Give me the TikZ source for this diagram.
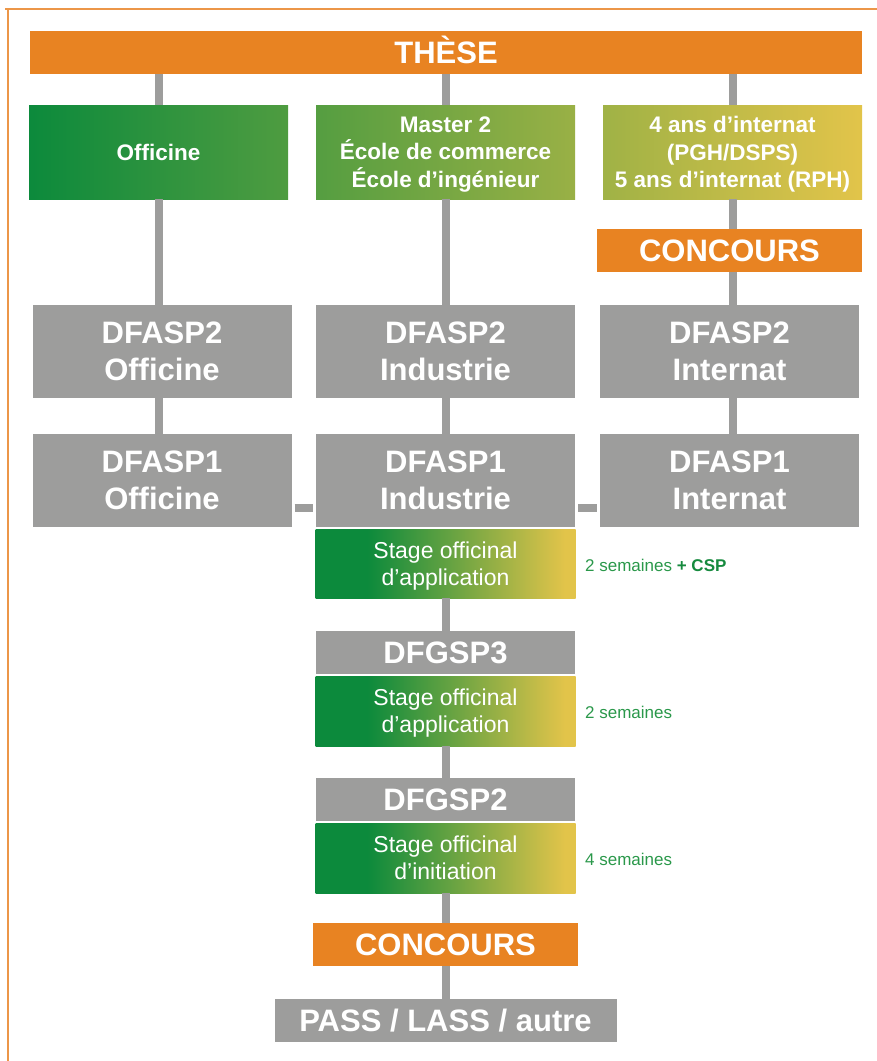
\documentclass[tikz,border=0pt]{standalone}
\usepackage{fontspec}
\setmainfont{Liberation Sans}
\usepackage{tikz}

\definecolor{barOrange}{RGB}{232,131,34}
\definecolor{frameOrange}{RGB}{236,150,72}
\definecolor{boxGray}{RGB}{157,157,156}
\definecolor{rowGreen}{RGB}{12,138,60}
\definecolor{rowYellow}{RGB}{226,196,74}
\definecolor{noteGreen}{RGB}{42,152,74}
\definecolor{noteDark}{RGB}{22,138,62}
\pgfdeclarehorizontalshading{stageshade}{100bp}{color(0bp)=(rowGreen); color(25bp)=(rowGreen); color(35bp)=(rowGreen); color(73bp)=(rowYellow); color(100bp)=(rowYellow)}

\tikzset{
  bigtext/.style={inner sep=0pt, align=center, text=white, font=\bfseries\fontsize{31}{37.4}\selectfont},
  onerow/.style={bigtext, text height=22.3pt, text depth=0pt, minimum height=43pt},
  orangebar/.style={onerow, fill=barOrange},
  greybox/.style={bigtext, fill=boxGray, minimum width=259pt, minimum height=93pt},
  greybar/.style={onerow, fill=boxGray, minimum width=259pt},
  rowbox/.style={inner sep=0pt, align=center, text=white, text depth=0pt, minimum width=259pt, minimum height=94pt, font=\bfseries\fontsize{22.5}{27.5}\selectfont},
  stagebox/.style={inner sep=0pt, align=center, text=white, text depth=0pt, shading=stageshade, minimum width=260pt, minimum height=70pt, font=\fontsize{23}{26.7}\selectfont},
  note/.style={inner sep=0pt, anchor=west, text=noteGreen, font=\fontsize{17}{20}\selectfont},
  link/.style={draw=boxGray, line width=8pt}
}

\begin{document}
\begin{tikzpicture}[x=1pt,y=1pt,yscale=-1,xscale=1]
\useasboundingbox (0,0) rectangle (877,1061);

%Frame lines
\draw [frameOrange, line width=2pt] (5,9) -- (877,9);
\draw [frameOrange, line width=2pt] (7.5,9) -- (7.5,1061);

% Top bar
\node [orangebar, minimum width=832pt] (these) at (446,52) {THÈSE};

% Second row
\node [rowbox, left color=rowGreen, right color=rowYellow!31!rowGreen] (off) at (158.5,152) {Officine};
\node [rowbox, left color=rowYellow!34!rowGreen, right color=rowYellow!66!rowGreen] (mas) at (445.5,152) {Master 2\\École de commerce\\École d’ingénieur};
\node [rowbox, left color=rowYellow!69!rowGreen, right color=rowYellow] (int) at (732.5,152) {4 ans d’internat\\(PGH/DSPS)\\5 ans d’internat (RPH)};
\node [orangebar, minimum width=265pt] (conc1) at (729.5,250.5) {CONCOURS};

% DFASP2 / DFASP1
\node [greybox] (d2o) at (162,351.5) {DFASP2\\Officine};
\node [greybox] (d2i) at (445.5,351.5) {DFASP2\\Industrie};
\node [greybox] (d2n) at (729.5,351.5) {DFASP2\\Internat};
\node [greybox] (d1o) at (162,480.5) {DFASP1\\Officine};
\node [greybox] (d1i) at (445.5,480.5) {DFASP1\\Industrie};
\node [greybox] (d1n) at (729.5,480.5) {DFASP1\\Internat};

% Middle column
\node [stagebox, minimum height=69pt] (stage1) at (445.5,563.5) {Stage officinal\\d’application};
\node [greybar] (dfgsp3) at (445.5,652.5) {DFGSP3};
\node [stagebox] (stage2) at (445.5,711) {Stage officinal\\d’application};
\node [greybar] (dfgsp2) at (445.5,799.5) {DFGSP2};
\node [stagebox] (stage3) at (445.5,858) {Stage officinal\\d’initiation};
\node [orangebar, minimum width=265pt] (conc2) at (445.5,944.5) {CONCOURS};
\node [onerow, fill=boxGray, minimum width=342pt] (pass) at (445.5,1020.5) {PASS / LASS / autre};

% Notes
\node [note] (lab1) at (585,565) {2 semaines \textcolor{noteDark}{\bfseries + CSP}};
\node [note] (lab2) at (585,712) {2 semaines};
\node [note] (lab3) at (585,859.5) {4 semaines};

% Connectors
\coordinate (dashrow) at (0,508);
\draw [link] (these.south -| off) -- (off.north);
\draw [link] (these.south -| mas) -- (mas.north);
\draw [link] (these.south -| int) -- (int.north);
\draw [link] (off.south) -- (off.south |- d2o.north);
\draw [link] (d2o.south -| off) -- (d1o.north -| off);
\draw [link] (mas.south) -- (d2i.north);
\draw [link] (d2i.south) -- (d1i.north);
\draw [link] (int.south) -- (int.south |- conc1.north);
\draw [link] (conc1.south -| int) -- (d2n.north -| int);
\draw [link] (d2n.south -| int) -- (d1n.north -| int);
\draw [link, shorten <=3pt, shorten >=3pt] (d1o.east |- dashrow) -- (d1i.west |- dashrow);
\draw [link, shorten <=3pt, shorten >=3pt] (d1i.east |- dashrow) -- (d1n.west |- dashrow);
\draw [link] (stage1.south) -- (dfgsp3.north);
\draw [link] (stage2.south) -- (dfgsp2.north);
\draw [link] (stage3.south) -- (conc2.north);
\draw [link] (conc2.south) -- (pass.north);

\end{tikzpicture}
\end{document}
